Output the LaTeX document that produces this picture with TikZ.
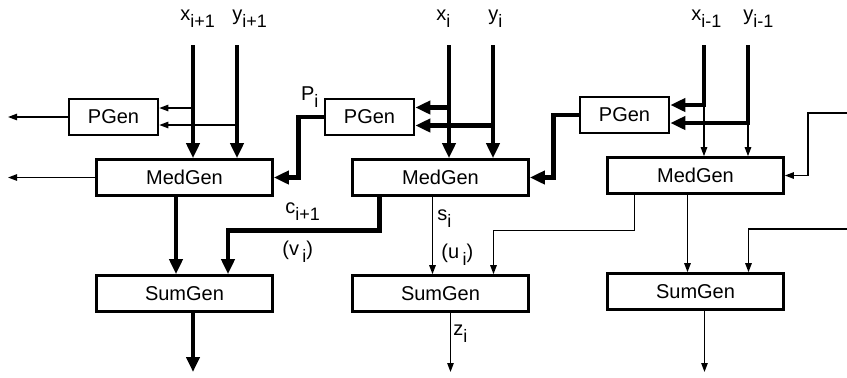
\documentclass[tikz,border=0pt]{standalone}
\usepackage{fontspec}
\setmainfont{Liberation Sans}
\usetikzlibrary{arrows.meta,calc,positioning}
\newcommand{\lowidx}[1]{\raisebox{-3.5pt}{\fontsize{9}{10}\selectfont #1}}

\begin{document}
\begin{tikzpicture}[x=0.5pt,y=-0.5pt,every node/.style={font=\fontsize{10}{12}\selectfont},
  blk/.style={draw,line width=1.3pt,minimum width=88pt,minimum height=18pt,inner sep=0pt},
  pbox/.style={blk,minimum width=44.5pt},
  lbl/.style={anchor=base west,inner sep=0pt},
  thk/.style={line width=2.4pt,-{Triangle[length=7.5pt,width=6.5pt]}},
  thn/.style={line width=0.7pt,-{Triangle[length=4.5pt,width=3.2pt]}}]
\useasboundingbox (0,0) rectangle (847,377);
\foreach \n/\dx/\dy in {a/0/0,b/256/0,c/511/2}{
  \node[pbox] (p\n) at (113.5+\dx,117-\dy) {PGen};
  \node[blk] (m\n) at (184.5+\dx,177.5-\dy) {MedGen};
  \node[blk] (s\n) at (184.5+\dx,293.5-\dy) {SumGen};
  \coordinate (x\n) at (193+\dx,45);\coordinate (y\n) at (237+\dx,45);
}
\foreach \n/\t in {a/i+1,b/i,c/i-1}{
  \node[lbl] (lx\n) at ($(x\n)+(-13,-25)$) {x\lowidx{\t}};
  \node[lbl] (ly\n) at ($(y\n)+(-5,-25)$) {y\lowidx{\t}};
}
\coordinate (lft) at (8,0);\coordinate (bot) at (0,372);
\coordinate (rc) at (847,113);\coordinate (rs) at (847,229);
\coordinate (pa1) at ([yshift=4.5pt]pa.east);\coordinate (pa2) at ([yshift=-4pt]pa.east);
\coordinate (pb1) at ([yshift=4.75pt]pb.east);\coordinate (pb2) at ([yshift=-4.25pt]pb.east);
\coordinate (pc1) at ([yshift=5pt]pc.east);\coordinate (pc2) at ([yshift=-4pt]pc.east);
\draw[thk] (xa) -- (xa |- ma.north);\draw[thk] (ya) -- (ya |- ma.north);
\draw[thn] (xa |- pa1) -- (pa1);\draw[thn] (ya |- pa2) -- (pa2);
\draw[thn] (pa.west) -- (lft |- pa.west);\draw[thn] (ma.west) -- (lft |- ma.west);
\draw[thk] ([xshift=-4.25pt]ma.south) -- ([xshift=-4.25pt]sa.north);
\coordinate (oa) at ([xshift=4.25pt]sa.south);\draw[thk] (oa) -- (oa |- bot);
\draw[thk] (xb) -- (xb |- mb.north);\draw[thk] (yb) -- (yb |- mb.north);
\draw[thk] (xb |- pb1) -- (pb1);\draw[thk] (yb |- pb2) -- (pb2);
\draw[thk] (pb.west) -- ++(-25,0) |- (ma.east);
\node[lbl] (lp) at ($(pb.west)+(-23,-16.5)$) {P\lowidx{i}};
\coordinate (cb) at ([xshift=-30.5pt]mb.south);\coordinate (ca) at ([xshift=21.75pt]sa.north);
\draw[thk] (cb) -- ++(0,34) -| (ca);
\node[lbl] (lc) at (285,213) {c\lowidx{i+1}};
\node[lbl] (lv) at (282,255) {(v\,\lowidx{i})};
\draw[thn] ([xshift=-4pt]mb.south) -- ([xshift=-4pt]sb.north);
\node[lbl] (ls) at (437,220) {s\lowidx{i}};
\node[lbl] (lu) at (441,258) {(u\,\lowidx{i})};
\coordinate (ob) at ([xshift=5pt]sb.south);\draw[thn] (ob) -- (ob |- bot);
\node[lbl] (lz) at (453,335) {z\lowidx{i}};
\coordinate (cc) at ([xshift=-30.5pt]mc.south);\coordinate (ub) at ([xshift=26.5pt]sb.north);
\draw[thn] (cc) -- ++(0,35.5) -| (ub);
\draw[thk] (xc) |- (pc1);\draw[thk] (yc) |- (pc2);
\draw[thn] (xc |- pc1) -- (xc |- mc.north);\draw[thn] (yc |- pc2) -- (yc |- mc.north);
\draw[thk] (pc.west) -- ++(-25,0) |- (mb.east);
\draw[thn] (rc) -- ++(-39,0) |- (mc.east);
\draw[thn] ([xshift=-4pt]mc.south) -- ([xshift=-4pt]sc.north);
\draw[thn] (rs) -| ([xshift=26.5pt]sc.north);
\coordinate (oc) at ([xshift=4.5pt]sc.south);\draw[thn] (oc) -- (oc |- bot);
\end{tikzpicture}
\end{document}
